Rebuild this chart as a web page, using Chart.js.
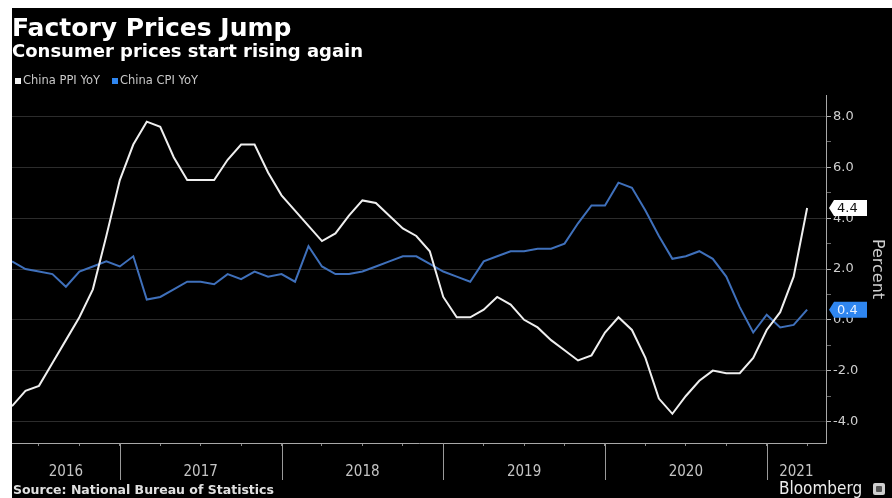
<!DOCTYPE html>
<html>
<head>
<meta charset="utf-8">
<script src="https://cdn.jsdelivr.net/npm/chart.js@4.4.1/dist/chart.umd.min.js"></script>
<style>
  html, body { margin: 0; padding: 0; }
  body { width: 892px; height: 498px; background: #fff; position: relative; overflow: hidden; font-family: "DejaVu Sans", sans-serif; }
  #frame { position: absolute; left: 12px; top: 8px; width: 880px; height: 490px; background: #000; }
  #chart { position: absolute; left: 0; top: 0; }
  .t { position: absolute; white-space: nowrap; }
  #title { left: 12px; top: 15px; font: bold 25px/25px "DejaVu Sans", sans-serif; color: #fff; }
  #subtitle { left: 12px; top: 42px; font: bold 18px/18px "DejaVu Sans", sans-serif; color: #fff; }
  #legend { left: 15px; top: 74px; font: 11.5px/12px "DejaVu Sans", sans-serif; color: #c8c8c8; }
  #legend .sw { display: inline-block; width: 6px; height: 6px; margin-right: 2px; vertical-align: 0px; }
  #legend .item { margin-right: 12px; }
  #source { left: 13px; top: 484px; font: bold 12.5px/12px "DejaVu Sans", sans-serif; color: #e0e0e0; }
  #brand { left: 779px; top: 480px; font: 17px/17px "DejaVu Sans Condensed", "DejaVu Sans", sans-serif; color: #ececec; }
  #logo { position: absolute; left: 873px; top: 483px; width: 12px; height: 12px; background: #cfcfcf; border-radius: 2px; }
  #logo::after { content: ""; position: absolute; left: 3px; top: 3px; width: 6px; height: 6px; background: #555; border-radius: 1px; }
</style>
</head>
<body>
<div id="frame"><canvas id="chart" width="880" height="490"></canvas></div>
<div class="t" id="title">Factory Prices Jump</div>
<div class="t" id="subtitle">Consumer prices start rising again</div>
<div class="t" id="legend"><span class="item"><span class="sw" style="background:#f2f2f2"></span>China PPI YoY</span><span class="item"><span class="sw" style="background:#2f86f0"></span>China CPI YoY</span></div>
<div class="t" id="source">Source: National Bureau of Statistics</div>
<div class="t" id="brand">Bloomberg</div>
<div id="logo"></div>
<script>
// ---- Data (monthly, Apr 2016 – Mar 2021) ----
const months = [
  "2016-04","2016-05","2016-06","2016-07","2016-08","2016-09","2016-10","2016-11","2016-12",
  "2017-01","2017-02","2017-03","2017-04","2017-05","2017-06","2017-07","2017-08","2017-09","2017-10","2017-11","2017-12",
  "2018-01","2018-02","2018-03","2018-04","2018-05","2018-06","2018-07","2018-08","2018-09","2018-10","2018-11","2018-12",
  "2019-01","2019-02","2019-03","2019-04","2019-05","2019-06","2019-07","2019-08","2019-09","2019-10","2019-11","2019-12",
  "2020-01","2020-02","2020-03","2020-04","2020-05","2020-06","2020-07","2020-08","2020-09","2020-10","2020-11","2020-12",
  "2021-01","2021-02","2021-03"
];
const ppi = [
  -3.4,-2.8,-2.6,-1.7,-0.8,0.1,1.2,3.3,5.5,
  6.9,7.8,7.6,6.4,5.5,5.5,5.5,6.3,6.9,6.9,5.8,4.9,
  4.3,3.7,3.1,3.4,4.1,4.7,4.6,4.1,3.6,3.3,2.7,0.9,
  0.1,0.1,0.4,0.9,0.6,0.0,-0.3,-0.8,-1.2,-1.6,-1.4,-0.5,
  0.1,-0.4,-1.5,-3.1,-3.7,-3.0,-2.4,-2.0,-2.1,-2.1,-1.5,-0.4,
  0.3,1.7,4.4
];
const cpi = [
  2.3,2.0,1.9,1.8,1.3,1.9,2.1,2.3,2.1,
  2.5,0.8,0.9,1.2,1.5,1.5,1.4,1.8,1.6,1.9,1.7,1.8,
  1.5,2.9,2.1,1.8,1.8,1.9,2.1,2.3,2.5,2.5,2.2,1.9,
  1.7,1.5,2.3,2.5,2.7,2.7,2.8,2.8,3.0,3.8,4.5,4.5,
  5.4,5.2,4.3,3.3,2.4,2.5,2.7,2.4,1.7,0.5,-0.5,0.2,
  -0.3,-0.2,0.4
];
const years = ["2016","2017","2018","2019","2020","2021"];
const yTicks = [-4, -3, -2, -1, 0, 1, 2, 3, 4, 5, 6, 7, 8];
const seriesNames = ["China PPI YoY", "China CPI YoY"];

// month position: end of month, counted in months from Jan 1 2016
const baseYear = 2016;
const monthPos = m => { const [y, mo] = m.split("-").map(Number); return (y - baseYear) * 12 + mo; };
const xs = months.map(monthPos);
const xMin = xs[0];
const xMax = xs[xs.length - 1] + 1.4;

const PPI_COLOR = "#efefef";
const CPI_COLOR = "#3f70bb";

const yearPlugin = {
  id: "years",
  afterDraw(chart) {
    const { ctx, chartArea, scales } = chart;
    const sx = scales.x;
    ctx.save();
    ctx.strokeStyle = "#9a9a9a";
    ctx.lineWidth = 1;
    ctx.fillStyle = "#c4c4c4";
    ctx.font = '15px "DejaVu Sans Condensed", "DejaVu Sans", sans-serif';
    ctx.textAlign = "center";
    ctx.textBaseline = "middle";
    years.forEach(y => {
      const s = (Number(y) - baseYear) * 12, e = s + 12;
      const a = Math.max(s, sx.min), b = Math.min(e, sx.max);
      if (b <= a) return;
      const cx = (sx.getPixelForValue(a) + sx.getPixelForValue(b)) / 2;
      ctx.fillText(y, cx, chartArea.bottom + 29);
      if (s > sx.min && s < sx.max) {
        const px = Math.round(sx.getPixelForValue(s)) + 0.5;
        ctx.beginPath();
        ctx.moveTo(px, chartArea.bottom);
        ctx.lineTo(px, chartArea.bottom + 37);
        ctx.stroke();
      }
    });
    ctx.restore();
  }
};

const lastLabelPlugin = {
  id: "lastLabels",
  afterDraw(chart) {
    const { ctx, chartArea, scales } = chart;
    const sy = scales.y;
    const items = [
      { v: ppi[ppi.length - 1], bg: "#ffffff", fg: "#111" },
      { v: cpi[cpi.length - 1], bg: "#2f86f0", fg: "#e8f1ff" }
    ];
    ctx.save();
    ctx.font = '13px "DejaVu Sans", sans-serif';
    ctx.textBaseline = "middle";
    ctx.textAlign = "left";
    items.forEach(it => {
      const yc = sy.getPixelForValue(it.v);
      const x0 = chartArea.right + 3, x1 = x0 + 5, x2 = x0 + 38, h = 16;
      ctx.fillStyle = it.bg;
      ctx.beginPath();
      ctx.moveTo(x0, yc);
      ctx.lineTo(x1, yc - h / 2);
      ctx.lineTo(x2, yc - h / 2);
      ctx.lineTo(x2, yc + h / 2);
      ctx.lineTo(x1, yc + h / 2);
      ctx.closePath();
      ctx.fill();
      ctx.fillStyle = it.fg;
      ctx.fillText(it.v.toFixed(1), x1 + 3, yc + 1);
    });
    ctx.restore();
  }
};

new Chart(document.getElementById("chart"), {
  type: "line",
  data: {
    datasets: [
      { label: seriesNames[0], data: xs.map((x, i) => ({ x, y: ppi[i] })), borderColor: PPI_COLOR, borderWidth: 2, pointRadius: 0, tension: 0, order: 1 },
      { label: seriesNames[1], data: xs.map((x, i) => ({ x, y: cpi[i] })), borderColor: CPI_COLOR, borderWidth: 2, pointRadius: 0, tension: 0, order: 2 }
    ]
  },
  options: {
    responsive: false,
    animation: false,
    devicePixelRatio: 1,
    layout: { padding: { top: 87, left: 0, right: 0, bottom: 0 } },
    plugins: { legend: { display: false }, tooltip: { enabled: false }, title: { display: false } },
    scales: {
      x: {
        type: "linear",
        min: xMin,
        max: xMax,
        afterBuildTicks: s => { const t = []; for (let v = Math.ceil(xMin / 3) * 3; v <= xMax; v += 3) t.push({ value: v }); s.ticks = t; },
        afterFit: s => { s.height = 55; },
        ticks: { callback: () => "", font: { size: 1 }, padding: 0 },
        grid: { drawOnChartArea: false, drawTicks: true, tickLength: 3, color: "#8a8a8a" },
        border: { display: true, color: "#a8a8a8", width: 1 }
      },
      y: {
        position: "right",
        min: -4.85,
        max: 8.85,
        afterBuildTicks: s => { s.ticks = yTicks.map(v => ({ value: v })); },
        afterFit: s => { s.width = 66; },
        ticks: {
          color: "#cfcfcf",
          font: { size: 13, family: '"DejaVu Sans", sans-serif' },
          padding: 2,
          callback: v => (v % 2 === 0 ? v.toFixed(1) : "")
        },
        grid: {
          drawOnChartArea: true,
          drawTicks: true,
          tickLength: 5,
          color: c => (c.tick && c.tick.value % 2 === 0 ? "#2c2c2c" : "rgba(0,0,0,0)"),
          tickColor: c => (c.tick && c.tick.value % 2 === 0 ? "#b0b0b0" : "#6a6a6a")
        },
        border: { display: true, color: "#a8a8a8", width: 1 },
        title: { display: true, text: "Percent", color: "#cfcfcf", font: { size: 16, family: '"DejaVu Sans", sans-serif' }, padding: { top: 5, bottom: 4 } }
      }
    }
  },
  plugins: [yearPlugin, lastLabelPlugin]
});
</script>
</body>
</html>
